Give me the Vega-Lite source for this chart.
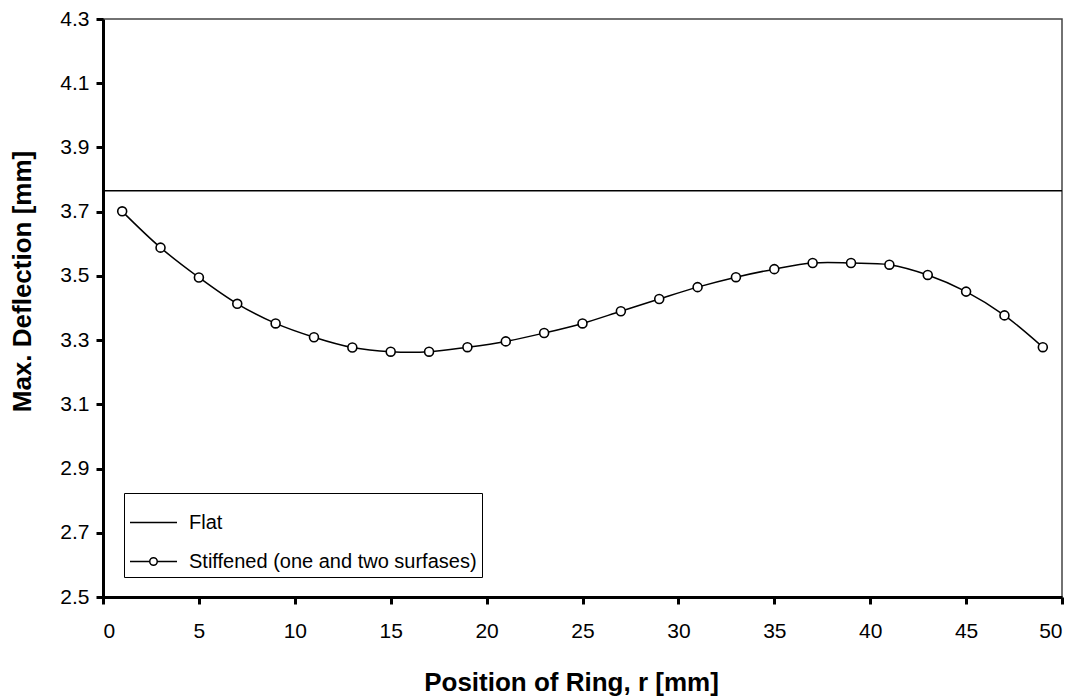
{
  "$schema": "https://vega.github.io/schema/vega-lite/v6.json",
  "autosize": {"type": "none"},
  "width": 959,
  "height": 578,
  "padding": {"left": 103, "top": 19, "right": 18, "bottom": 100},
  "background": "white",
  "config": {
    "font": "Liberation Sans",
    "view": {"stroke": "#444", "strokeWidth": 1.5},
    "axis": {
      "grid": false,
      "domainColor": "black",
      "domainWidth": 3,
      "tickColor": "black",
      "tickWidth": 3,
      "tickSize": 7,
      "labelColor": "black",
      "labelFont": "Liberation Sans",
      "labelFontSize": 21,
      "titleColor": "black",
      "titleFont": "Liberation Sans",
      "titleFontWeight": "bold"
    }
  },
  "datasets": {
    "all": [
      {"series": "Flat", "r": 0, "d": 3.765},
      {"series": "Flat", "r": 50, "d": 3.765},
      {"series": "Stiffened (one and two surfases)", "r": 1, "d": 3.701},
      {"series": "Stiffened (one and two surfases)", "r": 3, "d": 3.588},
      {"series": "Stiffened (one and two surfases)", "r": 5, "d": 3.495},
      {"series": "Stiffened (one and two surfases)", "r": 7, "d": 3.413},
      {"series": "Stiffened (one and two surfases)", "r": 9, "d": 3.352},
      {"series": "Stiffened (one and two surfases)", "r": 11, "d": 3.309},
      {"series": "Stiffened (one and two surfases)", "r": 13, "d": 3.277},
      {"series": "Stiffened (one and two surfases)", "r": 15, "d": 3.264},
      {"series": "Stiffened (one and two surfases)", "r": 17, "d": 3.264},
      {"series": "Stiffened (one and two surfases)", "r": 19, "d": 3.278},
      {"series": "Stiffened (one and two surfases)", "r": 21, "d": 3.296},
      {"series": "Stiffened (one and two surfases)", "r": 23, "d": 3.322},
      {"series": "Stiffened (one and two surfases)", "r": 25, "d": 3.352},
      {"series": "Stiffened (one and two surfases)", "r": 27, "d": 3.390},
      {"series": "Stiffened (one and two surfases)", "r": 29, "d": 3.428},
      {"series": "Stiffened (one and two surfases)", "r": 31, "d": 3.465},
      {"series": "Stiffened (one and two surfases)", "r": 33, "d": 3.496},
      {"series": "Stiffened (one and two surfases)", "r": 35, "d": 3.521},
      {"series": "Stiffened (one and two surfases)", "r": 37, "d": 3.540},
      {"series": "Stiffened (one and two surfases)", "r": 39, "d": 3.540},
      {"series": "Stiffened (one and two surfases)", "r": 41, "d": 3.535},
      {"series": "Stiffened (one and two surfases)", "r": 43, "d": 3.503},
      {"series": "Stiffened (one and two surfases)", "r": 45, "d": 3.451},
      {"series": "Stiffened (one and two surfases)", "r": 47, "d": 3.377},
      {"series": "Stiffened (one and two surfases)", "r": 49, "d": 3.278}
    ]
  },
  "data": {"name": "all"},
  "encoding": {
    "x": {
      "field": "r",
      "type": "quantitative",
      "scale": {"domain": [0, 50], "nice": false, "zero": false},
      "axis": {
        "values": [0, 5, 10, 15, 20, 25, 30, 35, 40, 45, 50],
        "title": "Position of Ring, r [mm]",
        "titleFontSize": 26,
        "labelPadding": 16,
        "titlePadding": 28,
        "titleX": 468
      }
    },
    "y": {
      "field": "d",
      "type": "quantitative",
      "scale": {"domain": [2.5, 4.3], "nice": false, "zero": false},
      "axis": {
        "values": [2.5, 2.7, 2.9, 3.1, 3.3, 3.5, 3.7, 3.9, 4.1, 4.3],
        "format": ".1f",
        "title": "Max. Deflection [mm]",
        "titleFontSize": 26,
        "labelPadding": 7,
        "titleX": -81,
        "titleY": 262,
        "titleAngle": 270,
        "titleAlign": "center",
        "titleBaseline": "middle"
      }
    }
  },
  "layer": [
    {
      "transform": [{"filter": "datum.series === 'Flat'"}],
      "mark": {"type": "line", "color": "black", "strokeWidth": 1.5}
    },
    {
      "transform": [{"filter": "datum.series !== 'Flat'"}],
      "mark": {"type": "line", "color": "black", "strokeWidth": 1.5, "interpolate": "catmull-rom"}
    },
    {
      "transform": [{"filter": "datum.series !== 'Flat'"}],
      "mark": {"type": "point", "shape": "circle", "filled": true, "fill": "white", "stroke": "black", "strokeWidth": 1.6, "size": 80, "opacity": 1}
    },
    {
      "mark": {"type": "point", "opacity": 0, "size": 2209, "filled": false},
      "encoding": {
        "shape": {
          "field": "series",
          "type": "nominal",
          "scale": {
            "domain": ["Flat", "Stiffened (one and two surfases)"],
            "range": [
              "M-1,0L1,0",
              "M-1,0L-0.16,0M0.16,0L1,0M0.16,0A0.16,0.16,0,1,1,-0.16,0A0.16,0.16,0,1,1,0.16,0"
            ]
          },
          "legend": {
            "title": null,
            "orient": "none",
            "legendX": 21,
            "legendY": 474,
            "strokeColor": "black",
            "fillColor": "white",
            "padding": 5,
            "labelFontSize": 20,
            "labelFont": "Liberation Sans",
            "labelColor": "black",
            "labelOffset": 11,
            "labelLimit": 0,
            "rowPadding": 4,
            "symbolSize": 2209,
            "symbolStrokeColor": "black",
            "symbolStrokeWidth": 1.5,
            "symbolFillColor": "transparent",
            "symbolOpacity": 1
          }
        }
      }
    }
  ]
}
